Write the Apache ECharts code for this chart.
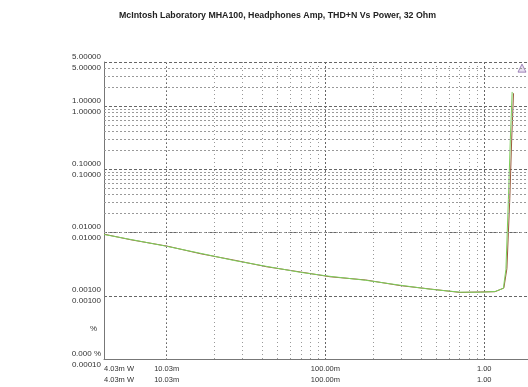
<!DOCTYPE html>
<html><head><meta charset="utf-8">
<script src="https://cdn.jsdelivr.net/npm/echarts@6/dist/echarts.min.js"></script>
<style>html,body{margin:0;padding:0;background:#fff}#c{width:528px;height:387px}</style>
</head><body><div id="c"></div><script>
const titleText = 'McIntosh Laboratory MHA100, Headphones Amp, THD+N Vs Power, 32 Ohm';

// Power (W) on x, THD+N on y
const powerW   = [0.00403, 0.00594, 0.0101, 0.0164, 0.0264, 0.0426, 0.0696, 0.107, 0.179, 0.296, 0.457, 0.706, 0.944, 1.17, 1.32, 1.37, 1.42, 1.46, 1.50];
const thdGreen = [0.00933, 0.00778, 0.00604, 0.00469, 0.00363, 0.00292, 0.00235, 0.00203, 0.00176, 0.00147, 0.00127, 0.00114, 0.00114, 0.00117, 0.00131, 0.00262, 0.0333, 0.294, 1.68];
const powerBrown = [0.00403, 0.00594, 0.0101, 0.0164, 0.0264, 0.0426, 0.0696, 0.107, 0.179, 0.296, 0.457, 0.706, 0.944, 1.17, 1.33, 1.39, 1.45, 1.49, 1.53];
const thdBrown = [0.00945, 0.00770, 0.00610, 0.00462, 0.00368, 0.00288, 0.00238, 0.00200, 0.00178, 0.00145, 0.00128, 0.00113, 0.00115, 0.00116, 0.00133, 0.00270, 0.0350, 0.300, 1.60];
const overload = [[1.73, 4.0]];

// axis ticks and labels
const xTickValues = [0.00403, 0.01, 0.1, 1];
const xLabelsA = ['4.03m W', '10.03m', '100.00m', '1.00'];
const xLabelsB = ['4.03m W', '10.03m', '100.00m', '1.00'];
const yTickValues = [5, 1, 0.1, 0.01, 0.001, 0.0001];
const yLabelsA = ['5.00000', '1.00000', '0.10000', '0.01000', '0.00100', '0.000 %'];
const yLabelsB = ['5.00000', '1.00000', '0.10000', '0.01000', '0.00100', '0.00010'];
const yUnit = '%';

const xMin = 0.00403, xMax = 2.0, yMin = 0.0001, yMax = 5;

function minorVals(lo, hi) {
  const out = [];
  for (let e = -5; e <= 1; e++) {
    for (let m = 2; m <= 9; m++) {
      const v = m * Math.pow(10, e);
      if (v > lo * 1.001 && v < hi * 0.999) out.push(v);
    }
  }
  return out;
}
const xMinor = minorVals(xMin, xMax);
const yMinor = minorVals(yMin, yMax);

function lookup(v, vals, a, b) {
  for (let i = 0; i < vals.length; i++) {
    if (Math.abs(Math.log10(v) - Math.log10(vals[i])) < 0.01) return a[i] + '\n' + b[i];
  }
  return '';
}

const chart = echarts.init(document.getElementById('c'), null, {renderer: 'canvas'});
const font = 'Liberation Sans, Arial, sans-serif';
chart.setOption({
  animation: false,
  backgroundColor: '#fff',
  title: {
    text: titleText, left: 114, top: 6,
    textStyle: {fontSize: 8.8, fontWeight: 'bold', color: '#222', fontFamily: font}
  },
  grid: {left: 104, top: 62, right: -4, bottom: 28, containLabel: false, outerBoundsMode: 'none'},
  xAxis: {
    type: 'log', logBase: 10, min: xMin, max: xMax,
    axisLine: {show: true, lineStyle: {color: '#777', width: 1}},
    axisTick: {show: false},
    splitLine: {show: true, lineStyle: {color: '#666', type: [2, 2], width: 1}},
    axisLabel: {
      fontSize: 7.5, lineHeight: 11, color: '#333', fontFamily: font, margin: 4,
      showMinLabel: true, showMaxLabel: true, hideOverlap: false,
      alignMinLabel: 'left',
      formatter: v => lookup(v, xTickValues, xLabelsA, xLabelsB)
    }
  },
  yAxis: {
    type: 'log', logBase: 10, min: yMin, max: yMax,
    axisLine: {show: true, lineStyle: {color: '#777', width: 1}},
    axisTick: {show: false},
    splitLine: {show: true, lineStyle: {color: '#666', type: [3, 2], width: 1}},
    axisLabel: {
      fontSize: 8, lineHeight: 11, color: '#333', fontFamily: font, margin: 3,
      showMinLabel: true, showMaxLabel: true, hideOverlap: false,
      formatter: v => lookup(v, yTickValues, yLabelsA, yLabelsB)
    }
  },
  graphic: [{
    type: 'text', left: 90, top: 325,
    style: {text: yUnit, fontSize: 8, fill: '#333', fontFamily: font}
  }],
  series: [
    {
      type: 'line', data: [], silent: true,
      markLine: {
        silent: true, symbol: 'none', label: {show: false}, animation: false,
        lineStyle: {color: '#999', type: [1, 3], width: 1},
        data: xMinor.map(v => ({xAxis: v}))
      }
    },
    {
      type: 'line', data: [], silent: true,
      markLine: {
        silent: true, symbol: 'none', label: {show: false}, animation: false,
        lineStyle: {color: '#999', type: [2, 2], width: 1},
        data: yMinor.map(v => ({yAxis: v}))
      }
    },
    {
      type: 'line', showSymbol: false, symbol: 'none',
      lineStyle: {color: '#9a5a3a', width: 1},
      data: powerBrown.map((p, i) => [p, thdBrown[i]])
    },
    {
      type: 'line', showSymbol: false, symbol: 'none',
      lineStyle: {color: '#7ccf5a', width: 1},
      data: powerW.map((p, i) => [p, thdGreen[i]])
    },
    {
      type: 'scatter', symbol: 'triangle', symbolSize: 8,
      itemStyle: {color: '#e4d8ee', borderColor: '#8a6aa8', borderWidth: 1},
      data: overload
    }
  ]
});
</script></body></html>
